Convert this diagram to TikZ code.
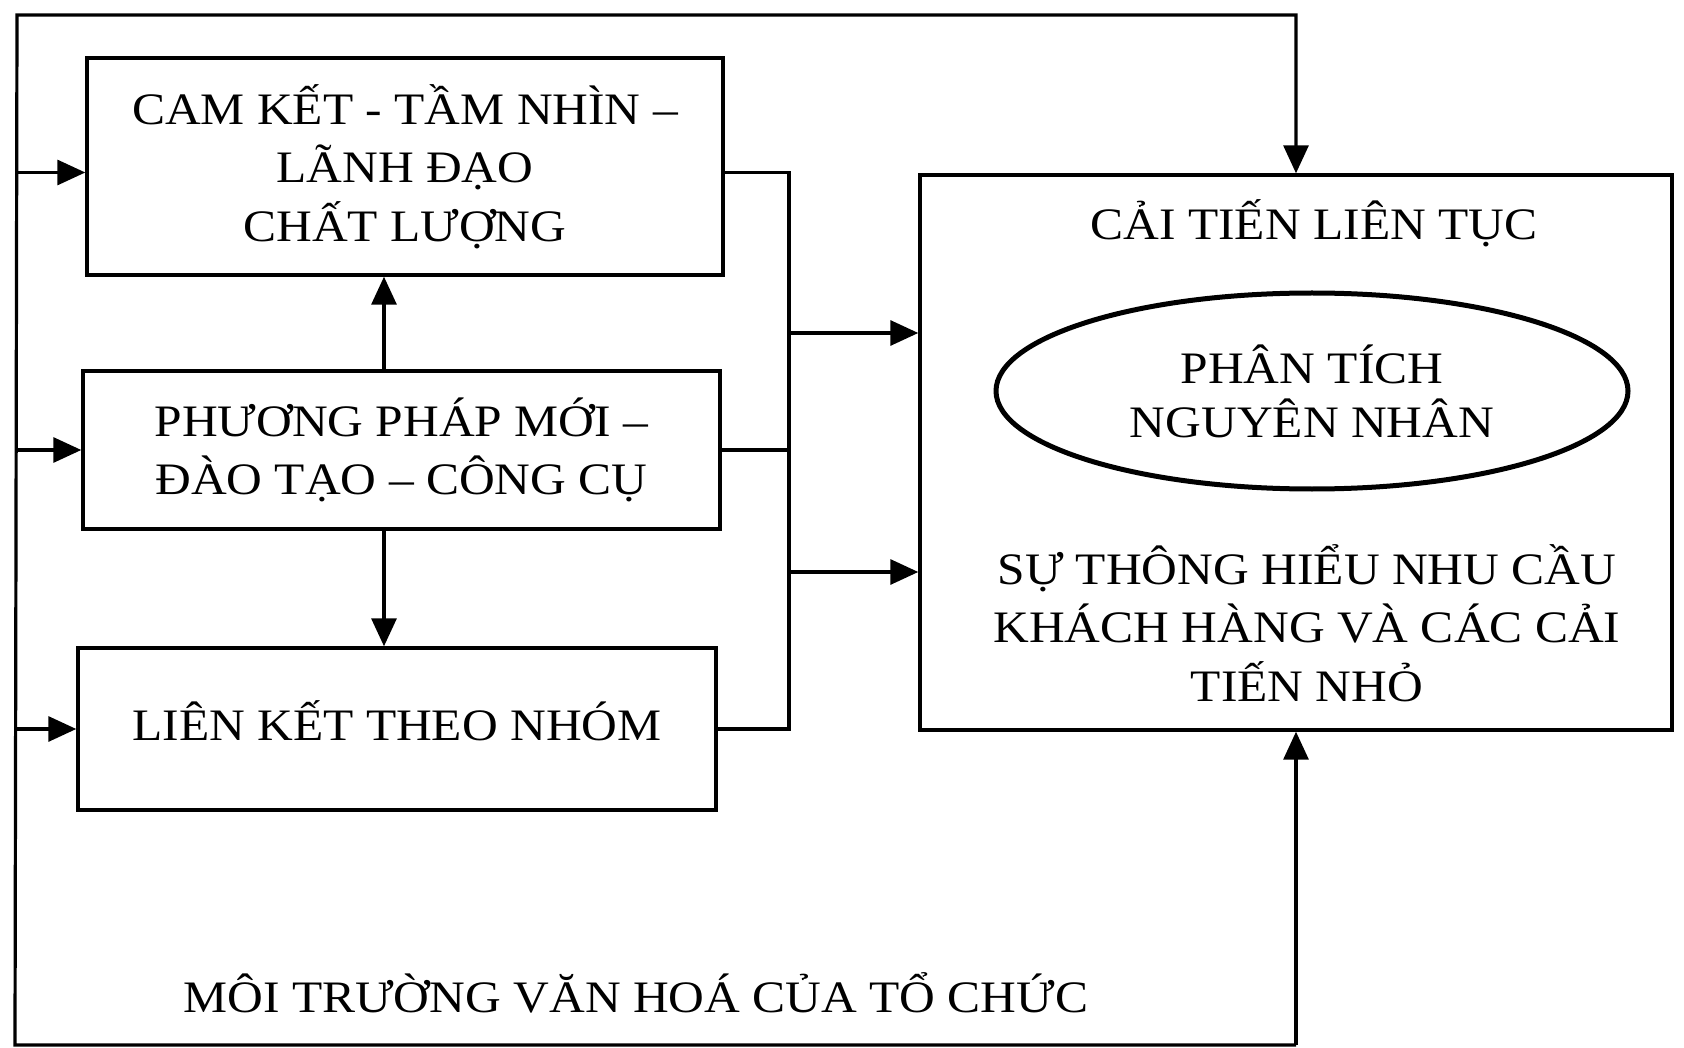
\documentclass[tikz,border=0pt]{standalone}
\usepackage{fontspec}
\setmainfont{Liberation Serif}[FakeStretch=1.1]
\usetikzlibrary{arrows.meta,shapes.geometric}
\begin{document}
\begin{tikzpicture}[x=1pt,y=-1pt,
  txt/.style={font=\fontsize{45}{58.5}\selectfont},
  box/.style={draw, line width=3.4pt, inner sep=0pt, align=center, txt},
  conn/.style={line width=3.2pt, line join=miter},
  arr/.style={conn, -{Triangle[length=28pt,width=25pt]}},
  lbl/.style={inner sep=0pt, align=center, txt}]
\useasboundingbox[fill=white] (0,0) rectangle (1684,1048);

% left boxes
\node[box, minimum width=636pt, minimum height=217pt] (A) at (405,166.5)
  {CAM KẾT - TẦM NHÌN –\\ LÃNH ĐẠO\\ CHẤT LƯỢNG};
\node[box, minimum width=637pt, minimum height=158pt] (B) at (401.5,450)
  {PHƯƠNG PHÁP MỚI –\\ ĐÀO TẠO – CÔNG CỤ};
\node[box, minimum width=638pt, minimum height=162pt, text depth=16pt] (C) at (397,729)
  {LIÊN KẾT THEO NHÓM};

% right big box
\node[draw, line width=3.4pt, minimum width=752pt, minimum height=555pt, inner sep=0pt] (D) at (1296,452.5) {};
\node[lbl, anchor=base] (T) at (1314,240) {CẢI TIẾN LIÊN TỤC};
\node[draw, ellipse, line width=5pt, minimum width=632pt, minimum height=196pt, inner sep=0pt,
      align=center, font=\fontsize{45}{54}\selectfont] (E) at (1312,391)
  {PHÂN TÍCH\\ NGUYÊN NHÂN};
\node[lbl] (F) at (1307,623) {SỰ THÔNG HIỂU NHU CẦU\\ KHÁCH HÀNG VÀ CÁC CẢI\\ TIẾN NHỎ};

% bottom label
\node[lbl, anchor=base] (G) at (636,1012) {MÔI TRƯỜNG VĂN HOÁ CỦA TỔ CHỨC};

% outer frame
\coordinate (ftl) at (17,15);
\coordinate (fbl) at (15,1045);
\draw[arr] (fbl -| D.south) -- (fbl) -- (ftl) -- (ftl -| D.north) -- (D.north);
\draw[arr] (fbl -| D.south) -- (D.south);

% left inputs
\coordinate (Aw) at ([yshift=-6pt]A.west);
\coordinate (Ae) at ([yshift=-6pt]A.east);
\draw[arr] (ftl |- Aw) -- (Aw);
\draw[arr] (ftl |- B.west) -- (B.west);
\draw[arr] (ftl |- C.west) -- (C.west);

% vertical arrows between left boxes
\coordinate (v) at (384,0);
\draw[arr] (B.north -| v) -- (A.south -| v);
\draw[arr] (B.south -| v) -- (C.north -| v);

% right bracket
\coordinate (bb) at (789,729);
\coordinate (j1) at (789,333);
\coordinate (j2) at (789,572);
\draw[conn] (Ae) -| (bb) -- (C.east);
\draw[conn] (B.east) -- (B.east -| bb);
\draw[arr] (j1) -- (j1 -| D.west);
\draw[arr] (j2) -- (j2 -| D.west);
\end{tikzpicture}
\end{document}
